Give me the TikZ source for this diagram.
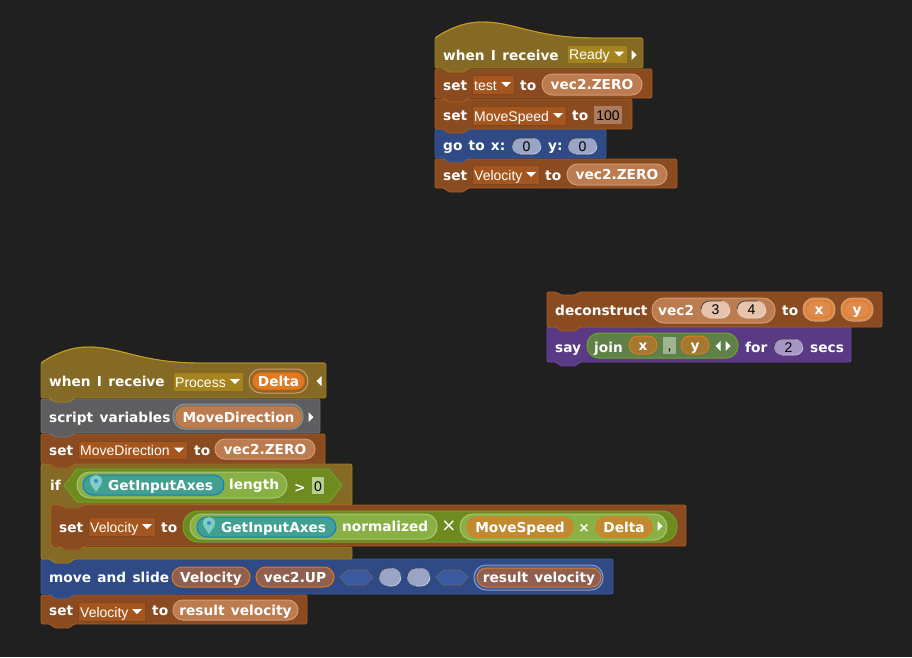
\documentclass[tikz,border=0pt]{standalone}
\usepackage{fontspec}
\setmainfont{DejaVu Sans}
\newfontfamily\ddfamily{Liberation Sans}
\newcount\nodeid
\newcommand{\bfnt}{\fontsize{13.7}{15}\selectfont\bfseries\spaceskip=6.3pt\relax}
\newcommand{\ddfnt}{\ddfamily\fontsize{14}{15}\selectfont}
\definecolor{bgc}{HTML}{202020}
\definecolor{varc}{HTML}{8A4B20}\definecolor{vare}{HTML}{A85C22}
\definecolor{hatc}{HTML}{846A25}\definecolor{hate}{HTML}{9C7F22}\definecolor{hatt}{HTML}{C8A020}
\definecolor{motc}{HTML}{304A85}\definecolor{mote}{HTML}{3A5AA0}
\definecolor{gryc}{HTML}{5E5E60}\definecolor{grye}{HTML}{707072}
\definecolor{sayc}{HTML}{5A3A85}\definecolor{saye}{HTML}{6A45A0}
\definecolor{ddbrown}{HTML}{A5561E}
\definecolor{ddhat}{HTML}{A58420}
\definecolor{pillv}{HTML}{BD7B50}
\definecolor{pille}{HTML}{D29B78}
\definecolor{ovar}{HTML}{E07A20}
\definecolor{opc}{HTML}{88B044}
\definecolor{ope}{HTML}{A8C878}
\definecolor{olive}{HTML}{6F8A1E}
\definecolor{teal}{HTML}{42A090}
\definecolor{rustv}{HTML}{8F5F50}
\definecolor{goldv}{HTML}{C08A30}
\definecolor{sayv}{HTML}{A57830}
\definecolor{paleo}{HTML}{DD8C4E}
\definecolor{joinc}{HTML}{5F8147}
\definecolor{joine}{HTML}{6BA52C}
\definecolor{ovmot}{HTML}{9AA5C5}
\definecolor{ovbrn}{HTML}{E5C3AC}
\definecolor{ovsay}{HTML}{A596C5}
\tikzset{
  blockshape/.style={line width=0.9pt,rounded corners=2pt,line join=round},
  varblock/.style={blockshape,fill=varc,draw=vare},
  hatblock/.style={blockshape,fill=hatc,draw=hate},
  motblock/.style={blockshape,fill=motc,draw=mote},
  gryblock/.style={blockshape,fill=gryc,draw=grye},
  sayblock/.style={blockshape,fill=sayc,draw=saye},
  lbl/.style={text=white,font=\bfnt,inner sep=0pt,anchor=base west},
  clbl/.style={text=white,font=\bfnt,inner sep=0pt,anchor=base},
  ddlbl/.style={text=white,font=\ddfnt,inner sep=0pt,anchor=base west},
  numlbl/.style={text=black,font=\ddfnt,inner sep=0pt,anchor=base},
}
\newcommand{\blk}[5]{\path[#5] (#1,#4) -- (#1,#2) -- ({#1+10},#2) -- ({#1+13},{#2+3}) -- ({#1+29},{#2+3}) -- ({#1+32},#2) -- (#3,#2) -- (#3,#4) -- ({#1+32},#4) -- ({#1+29},{#4+4}) -- ({#1+13},{#4+4}) -- ({#1+10},#4) -- cycle;}
\newcommand{\hatb}[4]{\path[hatblock] (#1,#4) -- (#1,#2) .. controls ({#1+13},{#2-9}) and ({#1+30},{#2-16}) .. ({#1+47},{#2-16}) .. controls ({#1+80},{#2-16}) and ({#1+100},#2) .. ({#1+160},#2) -- (#3,#2) -- (#3,#4) -- ({#1+32},#4) -- ({#1+29},{#4+4}) -- ({#1+13},{#4+4}) -- ({#1+10},#4) -- cycle;
  \draw[hatt,line width=0.9pt] (#1,#2) .. controls ({#1+13},{#2-9}) and ({#1+30},{#2-16}) .. ({#1+47},{#2-16}) .. controls ({#1+80},{#2-16}) and ({#1+100},#2) .. ({#1+160},#2) -- ({#3-2},#2);}
\newcommand{\tx}[3]{\global\advance\nodeid 1 \node[lbl] (t\the\nodeid) at (#1,{#2+5}) {#3};}
\newcommand{\ctx}[3]{\global\advance\nodeid 1 \node[clbl] (t\the\nodeid) at (#1,{#2+5}) {#3};}
\newcommand{\trir}[2]{\fill[white] ({#1-2.5},{#2-5}) -- ({#1+2.5},#2) -- ({#1-2.5},{#2+5}) -- cycle;}
\newcommand{\tril}[2]{\fill[white] ({#1+2.5},{#2-5}) -- ({#1-2.5},#2) -- ({#1+2.5},{#2+5}) -- cycle;}
\newcommand{\dd}[6]{\fill[#5,draw=#5!80!black,line width=0.5pt] (#1,#3) rectangle (#2,#4);
  \global\advance\nodeid 1 \node[ddlbl] (d\the\nodeid) at ({#1+2},{(#3+#4)/2+5.5}) {#6};
  \fill[white] ({#2-13},{(#3+#4)/2-2.5}) -- ({#2-3},{(#3+#4)/2-2.5}) -- ({#2-8},{(#3+#4)/2+2.5}) -- cycle;}
\newcommand{\pill}[7]{\pgfmathsetmacro\rr{(#4-#3)/2}\pgfmathsetmacro\cx{(#1+#2)/2}\pgfmathsetmacro\cy{(#3+#4)/2}
  \draw[fill=#5,draw=#6,line width=1pt,rounded corners=\rr pt] (#1,#3) rectangle (#2,#4);
  \ctx{\cx}{\cy}{#7}}
\newcommand{\ovalin}[6]{\pgfmathsetmacro\rr{(#4-#3)/2}
  \fill[#5,rounded corners=\rr pt] (#1,#3) rectangle (#2,#4);
  \draw[black!75,line width=0.7pt,rounded corners=\rr pt] (#1,{(#3+#4)/2}) -- (#1,#3) -- ({#2-\rr},#3);
  \draw[#5!50!white,line width=0.7pt,rounded corners=\rr pt] (#2,{(#3+#4)/2}) -- (#2,#4) -- ({#1+\rr},#4);
  \global\advance\nodeid 1 \node[numlbl] (o\the\nodeid) at ({(#1+#2)/2},{(#3+#4)/2+5}) {#6};}
\newcommand{\pinicon}[2]{\fill[green!15!cyan!45!gray!70!white] (#1,{#2+7}) .. controls ({#1-3},{#2+2}) and ({#1-6},{#2}) .. ({#1-6},{#2-4}) .. controls ({#1-6},{#2-12}) and ({#1+6},{#2-12}) .. ({#1+6},{#2-4}) .. controls ({#1+6},{#2}) and ({#1+3},{#2+2}) .. (#1,{#2+7}) -- cycle;
  \fill[cyan!55!blue!80!white] (#1,{#2-4}) circle (2pt);}
\begin{document}
\begin{tikzpicture}[x=1pt,y=-1pt]
\fill[bgc] (0,0) rectangle (912,657);
\useasboundingbox (0,0) rectangle (912,657);
%%% Script 1
\blk{435}{159}{677}{188}{varblock}
\blk{435}{129}{606}{158}{motblock}
\blk{435}{99}{632}{129}{varblock}
\blk{435}{69}{652}{98}{varblock}
\hatb{435}{38}{643}{68}
\tx{443}{55}{when I receive}
\dd{567}{627}{45}{63}{ddhat}{Ready}
\trir{634}{55}
\tx{443}{85}{set}
\dd{472}{514}{75}{94}{ddbrown}{test}
\tx{520}{85}{to}
\pill{542}{642}{74}{95}{pillv}{pille}{vec2.ZERO}
\tx{443}{115}{set}
\dd{472}{566}{106}{125}{ddbrown}{MoveSpeed}
\tx{572}{115}{to}
\fill[pillv!70!gray] (594,106) rectangle (622,124);
\global\advance\nodeid 1 \node[numlbl] (n\the\nodeid) at (608,120) {100};
\tx{443}{145}{go to x:}
\ovalin{512}{541}{138}{154}{ovmot}{0}
\tx{548}{145}{y:}
\ovalin{568}{597}{138}{154}{ovmot}{0}
\tx{443}{175}{set}
\dd{472}{539}{165}{184}{ddbrown}{Velocity}
\tx{545}{175}{to}
\pill{567}{667}{164}{185}{pillv}{pille}{vec2.ZERO}
%%% Script 2
\blk{547}{327}{851}{362}{sayblock}
\blk{547}{292}{882}{327}{varblock}
\tx{555}{310}{deconstruct}
\draw[fill=pillv,draw=pille,line width=1pt,rounded corners=12pt] (652,298) rectangle (775,323);
\tx{658}{310}{vec2}
\ovalin{701}{730}{301}{318}{ovbrn}{3}
\ovalin{737}{766}{301}{318}{ovbrn}{4}
\tx{782}{310}{to}
\draw[draw=pille,fill=paleo,line width=1pt,rounded corners=11pt] (803,298) rectangle (835,321);
\pill{806}{832}{301}{318}{paleo}{ovar}{x}
\draw[draw=pille,fill=paleo,line width=1pt,rounded corners=11pt] (841,298) rectangle (873,321);
\pill{844}{870}{301}{318}{paleo}{ovar}{y}
\tx{555}{347}{say}
\draw[fill=joinc,draw=joine,line width=1pt,rounded corners=12pt] (587,333) rectangle (738,358);
\tx{594}{347}{join}
\pill{629}{657}{336}{354}{sayv}{ovar}{x}
\fill[joinc!60!white] (663,337) rectangle (676,354);
\global\advance\nodeid 1 \node[numlbl] (n\the\nodeid) at (669.5,350) {,};
\pill{681}{709}{336}{354}{sayv}{ovar}{y}
\tril{718}{346}
\trir{728}{346}
\tx{745}{347}{for}
\ovalin{774}{803}{339}{355}{ovsay}{2}
\tx{810}{347}{secs}
%%% Script 3
\blk{41}{595}{307}{624}{varblock}
\blk{41}{559}{613}{594}{motblock}
\path[hatblock] (41,559) -- (41,464) -- (51,464) -- (54,467) -- (70,467) -- (73,464) -- (352,464) -- (352,505) -- (83,505) -- (80,509) -- (64,509) -- (61,505) -- (51,505) -- (51,547) -- (352,547) -- (352,559) -- (73,559) -- (70,563) -- (54,563) -- (51,559) -- cycle;
\blk{41}{434}{325}{464}{varblock}
\blk{41}{399}{320}{433}{gryblock}
\hatb{41}{363}{326}{398}
\tx{49}{381}{when I receive}
\dd{173}{243}{372}{391}{ddhat}{Process}
\draw[draw=pille,line width=1pt,rounded corners=12pt] (249,369) rectangle (308,393);
\pill{252}{305}{372}{390}{ovar}{ovar!80!black}{Delta}
\tril{319}{381}
\tx{49}{417}{script variables}
\draw[fill=gryc!85!white,draw=gray!85!white,line width=1pt,rounded corners=12pt] (173,404) rectangle (303,429);
\pill{176}{301}{407}{427}{pillv}{ovar}{MoveDirection}
\trir{311}{417}
\tx{49}{450}{set}
\dd{78}{187}{441}{459}{ddbrown}{MoveDirection}
\tx{194}{450}{to}
\pill{215}{315}{439}{459}{pillv}{pille}{vec2.ZERO}
\tx{50}{485}{if}
\path[fill=olive,draw=joine,line width=1pt,line join=round] (64,485.5) -- (77,469) -- (329,469) -- (342,485.5) -- (329,502) -- (77,502) -- cycle;
\draw[fill=opc,draw=ope,line width=1pt,rounded corners=13pt] (77,472) rectangle (287,498);
\draw[fill=teal,draw=cyan!60!blue,line width=1pt,rounded corners=10pt] (83,475) rectangle (224,495);
\pinicon{96}{485}
\tx{108}{485}{GetInputAxes}
\tx{229}{484}{length}
\tx{294}{487}{>}
\fill[opc!60!white] (312,477) rectangle (324,494);
\global\advance\nodeid 1 \node[numlbl] (n\the\nodeid) at (318,491) {0};
\blk{51}{505}{686}{546}{varblock}
\tx{59}{527}{set}
\dd{88}{155}{517}{536}{ddbrown}{Velocity}
\tx{161}{527}{to}
\draw[fill=olive,draw=joine,line width=1pt,rounded corners=15pt] (183,511) rectangle (677,542);
\draw[fill=opc,draw=ope,line width=1pt,rounded corners=12pt] (190,514) rectangle (437,539);
\draw[fill=teal,draw=cyan!60!blue,line width=1pt,rounded corners=10pt] (197,517) rectangle (336,537);
\pinicon{209}{527}
\tx{221}{527}{GetInputAxes}
\tx{342}{526}{normalized}
\ctx{449}{526}{\fontsize{18}{18}\selectfont\mdseries ×}
\draw[fill=opc,draw=ope,line width=1pt,rounded corners=13pt] (460,514) rectangle (667,540);
\pill{467}{573}{517}{537}{goldv}{ovar}{MoveSpeed}
\ctx{584}{527}{×}
\pill{596}{652}{517}{537}{goldv}{ovar}{Delta}
\trir{660}{526}
\tx{49}{577}{move and slide}
\pill{172}{250}{567}{587}{rustv}{ovar}{Velocity}
\pill{256}{334}{567}{587}{rustv}{ovar}{vec2.UP}
\path[fill=mote,draw=black!60,line width=0.6pt] (340,577.5) -- (347,570) -- (366,570) -- (373,577.5) -- (366,585) -- (347,585) -- cycle;
\ovalin{379}{401}{568}{586}{ovmot}{}
\ovalin{407}{430}{568}{586}{ovmot}{}
\path[fill=mote,draw=black!60,line width=0.6pt] (436,577.5) -- (443,570) -- (461,570) -- (468,577.5) -- (461,585) -- (443,585) -- cycle;
\draw[fill=mote,draw=mote!60!white,line width=1pt,rounded corners=12pt] (474,565) rectangle (603,590);
\pill{477}{601}{568}{587}{rustv}{ovar}{result velocity}
\tx{49}{610}{set}
\dd{78}{145}{602}{621}{ddbrown}{Velocity}
\tx{152}{610}{to}
\pill{173}{298}{600}{620}{pillv}{pille}{result velocity}
\end{tikzpicture}
\end{document}
